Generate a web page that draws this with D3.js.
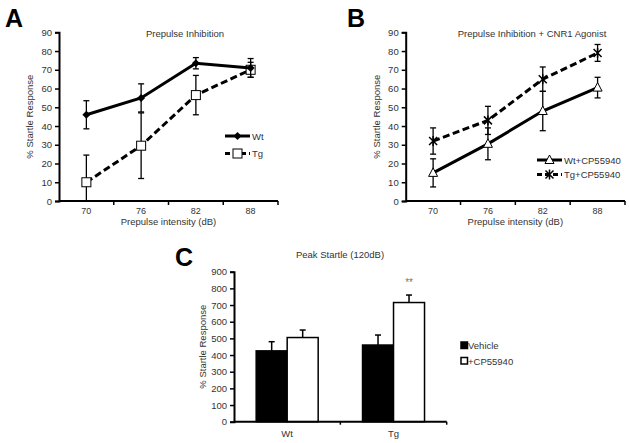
<!DOCTYPE html>
<html><head><meta charset="utf-8">
<script src="https://cdn.jsdelivr.net/npm/d3@7"></script>
<style>body{margin:0;background:#fff}svg{display:block;font-family:"Liberation Sans",Arial,sans-serif}</style>
</head><body><svg id="c" width="629" height="443"></svg>
<script>
const intensities = ["70","76","82","88"];
const yTicksPct = [0,10,20,30,40,50,60,70,80,90];
// Panel A
const wtMean = [46,55,73.5,71];
const wtErr = [7.5,7.5,3,5];
const tgMean = [10,29.5,56.5,70];
const tgErr = [14.5,17.5,10.5,4];
// Panel B
const wtCpMean = [15,30.5,48,60.5];
const wtCpErr = [7.5,8.5,10.5,5.5];
const tgCpMean = [32,43,65,79];
const tgCpErr = [7,7.5,6.5,4.5];
// Panel C
const genotypes = ["Wt","Tg"];
const treatments = ["Vehicle","+CP55940"];
const vehicleMean = [425,460];
const vehicleErr = [55,60];
const cpMean = [505,715];
const cpErr = [45,45];
const yTicksC = [0,100,200,300,400,500,600,700,800,900];

const svg = d3.select("#c");
const txt = "#333";

function axes(g, x, y, ticks, x0, x1, y0, y1, xlabel, ylabelX) {
  const ya = g.append("g").attr("transform",`translate(${x0},0)`)
    .call(d3.axisLeft(y).tickValues(ticks).tickSize(4).tickPadding(3));
  ya.select(".domain").attr("stroke","#000").attr("stroke-width",2);
  ya.selectAll(".tick line").attr("stroke","#000").attr("stroke-width",1.5);
  ya.selectAll("text").attr("font-size",9.5).attr("fill",txt);
  const xa = g.append("g").attr("transform",`translate(0,${y0})`);
  xa.append("line").attr("x1",x0).attr("x2",x1).attr("stroke","#000").attr("stroke-width",2);
  const bounds = x.domain().map(d=>x(d)).concat([x1]);
  bounds.forEach(b=>{ if(b>x0+1) xa.append("line").attr("x1",b).attr("x2",b).attr("y1",0).attr("y2",4).attr("stroke","#000").attr("stroke-width",1.5);});
  x.domain().forEach(d=>{
    xa.append("text").attr("x",x(d)+x.bandwidth()/2).attr("y",13).attr("text-anchor","middle")
      .attr("font-size",9).attr("fill",txt).text(d);
  });
  xa.append("text").attr("x",(x0+x1)/2).attr("y",24).attr("text-anchor","middle")
      .attr("font-size",9.5).attr("fill",txt).text(xlabel);
  g.append("text").attr("transform",`translate(${ylabelX},${(y0+y1)/2}) rotate(-90)`)
    .attr("text-anchor","middle").attr("font-size",9.5).attr("fill",txt).text("% Startle Response");
}

function errBars(g, x, y, mean, err, cats) {
  cats.forEach((c,i)=>{
    const cx = x(c)+x.bandwidth()/2;
    const lo = Math.max(0, mean[i]-err[i]), hi = mean[i]+err[i];
    g.append("line").attr("x1",cx).attr("x2",cx).attr("y1",y(lo)).attr("y2",y(hi)).attr("stroke","#000").attr("stroke-width",1.3);
    [lo,hi].forEach(v=>{ if(v>0) g.append("line").attr("x1",cx-3).attr("x2",cx+3).attr("y1",y(v)).attr("y2",y(v)).attr("stroke","#000").attr("stroke-width",1.3);});
  });
}

function marker(g, type, cx, cy) {
  if (type==="diamond") {
    g.append("path").attr("d",`M${cx},${cy-4}L${cx+4},${cy}L${cx},${cy+4}L${cx-4},${cy}Z`).attr("fill","#000");
  } else if (type==="square") {
    g.append("rect").attr("x",cx-4.5).attr("y",cy-4.5).attr("width",9).attr("height",9).attr("fill","#fff").attr("stroke","#000").attr("stroke-width",1);
  } else if (type==="triangle") {
    g.append("path").attr("d",`M${cx},${cy-5}L${cx+4.5},${cy+3.5}L${cx-4.5},${cy+3.5}Z`).attr("fill","#fff").attr("stroke","#000").attr("stroke-width",1);
  } else if (type==="star") {
    g.append("path").attr("d",`M${cx-4},${cy-4}L${cx+4},${cy+4}M${cx-4},${cy+4}L${cx+4},${cy-4}M${cx},${cy-5}L${cx},${cy+5}`).attr("stroke","#000").attr("stroke-width",1.5).attr("fill","none");
  }
}

function series(g, x, y, mean, err, dashed, type) {
  errBars(g, x, y, mean, err, intensities);
  const line = d3.line().x((d,i)=>x(intensities[i])+x.bandwidth()/2).y(d=>y(d));
  g.append("path").attr("d",line(mean)).attr("fill","none").attr("stroke","#000").attr("stroke-width",3)
    .attr("stroke-dasharray",dashed?"7,3.5":null);
  mean.forEach((m,i)=>marker(g,type,x(intensities[i])+x.bandwidth()/2,y(m)));
}

function legendLine(g, x1, x2, yy, dashed, type, label) {
  g.append("line").attr("x1",x1).attr("x2",x2).attr("y1",yy).attr("y2",yy).attr("stroke","#000").attr("stroke-width",3)
    .attr("stroke-dasharray",dashed?"5,3":null);
  marker(g,type,(x1+x2)/2,yy);
  g.append("text").attr("x",x2+2).attr("y",yy+3.5).attr("font-size",9.5).attr("fill",txt).text(label);
}

// ---------- Panel A ----------
{
  const g = svg.append("g");
  const x0=59,x1=278,y0=201,y1=32.3;
  const x = d3.scaleBand().domain(intensities).range([x0,x1]);
  const y = d3.scaleLinear().domain([0,90]).range([y0,y1]);
  axes(g,x,y,yTicksPct,x0,x1,y0,y1,"Prepulse intensity (dB)",33);
  series(g,x,y,tgMean,tgErr,true,"square");
  series(g,x,y,wtMean,wtErr,false,"diamond");
  g.append("text").attr("x",185).attr("y",37).attr("text-anchor","middle").attr("font-size",9.5).attr("fill",txt).text("Prepulse Inhibition");
  legendLine(g,225,250,136,false,"diamond","Wt");
  legendLine(g,225,250,153.5,true,"square","Tg");
  g.append("text").attr("x",5).attr("y",27).attr("font-size",25).attr("font-weight","bold").text("A");
}
// ---------- Panel B ----------
{
  const g = svg.append("g");
  const x0=405.7,x1=625,y0=201,y1=32.3;
  const x = d3.scaleBand().domain(intensities).range([x0,x1]);
  const y = d3.scaleLinear().domain([0,90]).range([y0,y1]);
  axes(g,x,y,yTicksPct,x0,x1,y0,y1,"Prepulse intensity (dB)",380);
  series(g,x,y,tgCpMean,tgCpErr,true,"star");
  series(g,x,y,wtCpMean,wtCpErr,false,"triangle");
  g.append("text").attr("x",532).attr("y",37).attr("text-anchor","middle").attr("font-size",9.5).attr("fill",txt).text("Prepulse Inhibition + CNR1  Agonist");
  legendLine(g,537,562,160,false,"triangle","Wt+CP55940");
  legendLine(g,537,562,174.5,true,"star","Tg+CP55940");
  g.append("text").attr("x",347).attr("y",27).attr("font-size",25).attr("font-weight","bold").text("B");
}
// ---------- Panel C ----------
{
  const g = svg.append("g");
  const x0=234,x1=446.7,y0=421.7,y1=271.7;
  const x = d3.scaleBand().domain(genotypes).range([x0,x1]);
  const y = d3.scaleLinear().domain([0,900]).range([y0,y1]);
  const xs = d3.scaleBand().domain(treatments).range([0,62]);
  const ya = g.append("g").attr("transform",`translate(${x0},0)`)
    .call(d3.axisLeft(y).tickValues(yTicksC).tickSize(4).tickPadding(3));
  ya.select(".domain").attr("stroke","#000").attr("stroke-width",2);
  ya.selectAll(".tick line").attr("stroke","#000").attr("stroke-width",1.5);
  ya.selectAll("text").attr("font-size",9.5).attr("fill",txt);
  const groups = genotypes.map((gname,i)=>({gname, vals:[{t:treatments[0],m:vehicleMean[i],e:vehicleErr[i]},{t:treatments[1],m:cpMean[i],e:cpErr[i]}]}));
  groups.forEach(grp=>{
    const gx = x(grp.gname)+x.bandwidth()/2-31;
    grp.vals.forEach((v,j)=>{
      const bx = gx+xs(v.t);
      const cx = bx+xs.bandwidth()/2;
      g.append("line").attr("x1",cx).attr("x2",cx).attr("y1",y(v.m)).attr("y2",y(v.m+v.e)).attr("stroke","#000").attr("stroke-width",1.5);
      g.append("line").attr("x1",cx-3).attr("x2",cx+3).attr("y1",y(v.m+v.e)).attr("y2",y(v.m+v.e)).attr("stroke","#000").attr("stroke-width",1.5);
      g.append("rect").attr("x",bx).attr("y",y(v.m)).attr("width",xs.bandwidth()).attr("height",y0-y(v.m))
        .attr("fill",j===0?"#000":"#fff").attr("stroke","#000").attr("stroke-width",1.5);
    });
  });
  const xa = g.append("g");
  xa.append("line").attr("x1",x0).attr("x2",x1).attr("y1",y0).attr("y2",y0).attr("stroke","#000").attr("stroke-width",2);
  [x("Tg"),x1].forEach(b=>xa.append("line").attr("x1",b).attr("x2",b).attr("y1",y0).attr("y2",y0+3).attr("stroke","#000").attr("stroke-width",1.5));
  genotypes.forEach(gn=>xa.append("text").attr("x",x(gn)+x.bandwidth()/2).attr("y",437).attr("text-anchor","middle").attr("font-size",9.5).attr("fill",txt).text(gn));
  g.append("text").attr("transform",`translate(206,${(y0+y1)/2}) rotate(-90)`).attr("text-anchor","middle").attr("font-size",9.5).attr("fill",txt).text("% Startle Response");
  g.append("text").attr("x",340).attr("y",258).attr("text-anchor","middle").attr("font-size",9.5).attr("fill",txt).text("Peak Startle (120dB)");
  const tgcx = x("Tg")+x.bandwidth()/2-31+xs(treatments[1])+xs.bandwidth()/2;
  g.append("text").attr("x",tgcx).attr("y",y(cpMean[1]+cpErr[1])-9).attr("text-anchor","middle").attr("font-size",10).attr("fill","#777").text("**");
  treatments.forEach((t,i)=>{
    const ly = 346+i*15.5;
    g.append("rect").attr("x",461).attr("y",ly-4).attr("width",6.5).attr("height",6.5).attr("fill",i===0?"#000":"#fff").attr("stroke","#000").attr("stroke-width",1.5);
    g.append("text").attr("x",468).attr("y",ly+3).attr("font-size",9.5).attr("fill",txt).text(t);
  });
  g.append("text").attr("x",175).attr("y",266).attr("font-size",25).attr("font-weight","bold").text("C");
}
</script></body></html>
